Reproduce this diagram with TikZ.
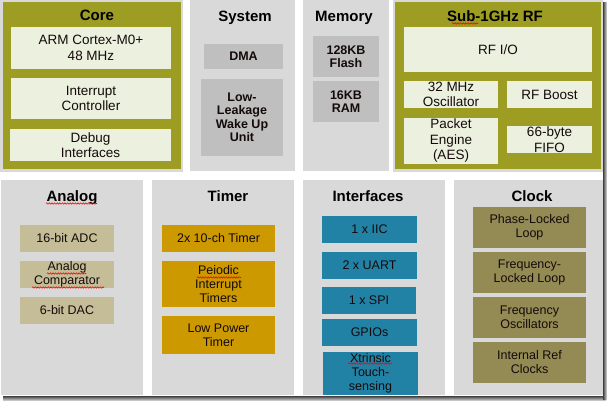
\documentclass[tikz,border=0pt]{standalone}
\usepackage{fontspec}
\setmainfont{Liberation Sans}
\usetikzlibrary{decorations.pathmorphing}
\definecolor{pgray}{RGB}{217,217,217}
\definecolor{olive}{RGB}{157,157,36}
\definecolor{lgreen}{RGB}{235,241,222}
\definecolor{sysg}{RGB}{191,191,191}
\definecolor{anac}{RGB}{196,189,151}
\definecolor{tmrc}{RGB}{204,153,0}
\definecolor{ifc}{RGB}{33,130,165}
\definecolor{clkc}{RGB}{148,138,84}
\definecolor{txtc}{RGB}{20,10,10}
\newcommand\blk[8]{%
  \node[#6,minimum width={#4-#2},minimum height={#5-#3}] (#1) at ({(#2+#4)/2},{(#3+#5)/2}) {};
  \node[#7] (#1t) at (#1.center) {#8};}
\newcommand\ttl[4]{\node[ttlst,anchor=base] (#1) at (#2,#3) {#4};}
\begin{document}
\begin{tikzpicture}[x=1pt,y=-1pt,
  boxbase/.style={inner sep=0pt,outer sep=0pt,draw=none},
  inb/.style={boxbase,fill=lgreen},
  sysb/.style={boxbase,fill=sysg},
  anb/.style={boxbase,fill=anac},
  tmb/.style={boxbase,fill=tmrc},
  ifb/.style={boxbase,fill=ifc},
  clb/.style={boxbase,fill=clkc},
  ttop/.style={inner sep=0pt,align=center,text=txtc,font=\fontsize{13.5}{15.5}\selectfont},
  tsys/.style={inner sep=0pt,align=center,text=txtc,font=\bfseries\fontsize{12.5}{13.5}\selectfont},
  tbot/.style={inner sep=0pt,align=center,text=txtc,font=\fontsize{12.5}{14}\selectfont},
  ttlst/.style={inner sep=0pt,text=black,font=\bfseries\fontsize{15}{17}\selectfont},
  squig/.style={red,line width=0.6pt,decorate,decoration={snake,amplitude=0.7pt,segment length=2.6pt}}]
\useasboundingbox (0,0) rectangle (607,401);
\fill[white] (0,0) rectangle (607,401);
% shadow
\shade[top color=black!75,bottom color=black!10] (3,396) rectangle (606,401);
\shade[left color=black!75,right color=black!10] (603,3) rectangle (607,399);
% top panels
\fill[pgray] (0,0) rectangle (183,172);
\fill[olive] (3,2) rectangle (181,169);
\fill[pgray] (190,0) rectangle (295,171);
\fill[pgray] (303,0) rectangle (389,171);
\fill[pgray] (393,0) rectangle (603,172);
\fill[olive] (395,2) rectangle (601,169);
% bottom panels
\fill[pgray] (1,180) rectangle (143,395);
\fill[pgray] (152,180) rectangle (294,395);
\fill[pgray] (303,180) rectangle (445,395);
\fill[pgray] (454,180) rectangle (603,395);
% titles
\ttl{tcore}{97}{20.5}{Core}
\ttl{tsys}{245}{21.5}{System}
\ttl{tmem}{344}{21.5}{Memory}
\ttl{trf}{495}{21.5}{Sub-1GHz RF}
\ttl{tana}{72}{201.5}{Analog}
\ttl{ttmr}{228}{201.5}{Timer}
\ttl{tif}{368}{201.5}{Interfaces}
\ttl{tclk}{532}{201.5}{Clock}
% core
\blk{arm}{11}{27}{171}{69}{inb}{ttop}{ARM Cortex-M0+\\48 MHz}
\blk{irq}{11}{78}{171}{119}{inb}{ttop}{Interrupt\\Controller}
\blk{dbg}{10}{129}{171}{161}{inb}{ttop}{Debug\\Interfaces}
% system
\blk{dma}{204}{44}{283}{69}{sysb}{tsys}{DMA}
\blk{wake}{201}{79}{283}{156}{sysb}{tsys}{Low-\\Leakage\\Wake Up\\Unit}
% memory
\blk{flash}{313}{36}{379}{77}{sysb}{tsys}{128KB\\Flash}
\blk{ram}{313}{81}{379}{122}{sysb}{tsys}{16KB\\RAM}
% rf
\blk{rfio}{404}{27}{592}{72}{inb}{ttop}{RF I/O}
\blk{osc}{404}{81}{498}{108}{inb}{ttop}{32 MHz\\Oscillator}
\blk{boost}{507}{81}{592}{108}{inb}{ttop}{RF Boost}
\blk{pkt}{404}{118}{498}{164}{inb}{ttop}{Packet\\Engine\\(AES)}
\blk{fifo}{507}{126}{592}{153}{inb}{ttop}{66-byte\\FIFO}
% analog
\blk{adc}{20}{225}{114}{252}{anb}{tbot}{16-bit ADC}
\blk{cmp}{20}{261}{114}{288}{anb}{tbot}{Analog\\Comparator}
\blk{dac}{20}{297}{114}{324}{anb}{tbot}{6-bit DAC}
% timer
\blk{tmr}{162}{225}{275}{252}{tmb}{tbot}{2x 10-ch Timer}
\blk{pit}{162}{261}{275}{307}{tmb}{tbot}{Peiodic\\Interrupt\\Timers}
\blk{lpt}{162}{316}{275}{354}{tmb}{tbot}{Low Power\\Timer}
% interfaces
\blk{iic}{322}{216}{417}{243}{ifb}{tbot}{1 x IIC}
\blk{uart}{322}{252}{417}{279}{ifb}{tbot}{2 x UART}
\blk{spi}{322}{287}{416}{314}{ifb}{tbot}{1 x SPI}
\blk{gpio}{322}{319}{417}{346}{ifb}{tbot}{GPIOs}
\blk{touch}{323}{352}{418}{395}{ifb}{tbot}{Xtrinsic\\Touch-\\sensing}
% clock
\blk{pll}{473}{207}{586}{248}{clb}{tbot}{Phase-Locked\\Loop}
\blk{fll}{473}{252}{586}{293}{clb}{tbot}{Frequency-\\Locked Loop}
\blk{fosc}{473}{297}{586}{338}{clb}{tbot}{Frequency\\Oscillators}
\blk{irc}{473}{342}{586}{383}{clb}{tbot}{Internal Ref\\Clocks}
% spell-check squiggles
\draw[squig] (452,23.5) -- (478,23.5);
\draw[squig] (46,203.5) -- (97,203.5);
\draw[squig] (47,273.5) -- (86,273.5);
\draw[squig] (32,287.5) -- (104,287.5);
\draw[squig] (197,277.5) -- (241,277.5);
\draw[squig] (348,363.5) -- (392,363.5);
\end{tikzpicture}
\end{document}
